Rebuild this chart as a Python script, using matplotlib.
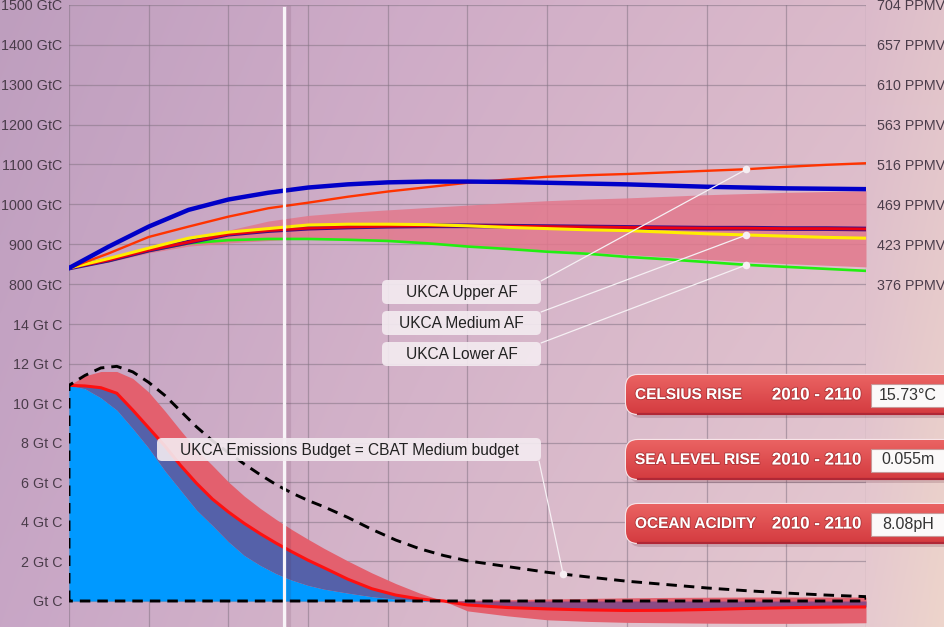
import numpy as np
import matplotlib
matplotlib.use("Agg")
import matplotlib.pyplot as plt
from matplotlib.patches import FancyBboxPatch, Rectangle
import matplotlib.patheffects as pe

# ---------------- data: top panel (GtC) ----------------
years_top = [2010, 2015, 2020, 2025, 2030, 2035, 2040, 2045, 2050, 2055, 2060,
             2065, 2070, 2075, 2080, 2085, 2090, 2095, 2100, 2105, 2110]
cbat_high = [840, 894, 944, 986, 1012, 1029, 1042, 1050, 1055, 1057, 1057,
             1056, 1054, 1052, 1050, 1047, 1044, 1042, 1040, 1039, 1038]
ukca_upper_af = [840, 877, 918, 944, 969, 990, 1004, 1019, 1032, 1043, 1054,
                 1062, 1069, 1073, 1076, 1080, 1084, 1088, 1094, 1099, 1103]
ukca_medium_af = [840, 864, 890, 915, 930, 939, 948, 950, 950, 949, 946,
                  942, 939, 936, 934, 930, 926, 923, 920, 917, 915]
ukca_lower_af = [840, 858, 883, 902, 910, 913, 913, 911, 908, 902, 894,
                 888, 881, 876, 868, 862, 855, 848, 843, 838, 833]
cbat_medium = [840, 860, 885, 905, 925, 934, 940, 943, 945, 946, 946,
               945, 944, 943, 942, 941, 940, 940, 939, 939, 938]
band_high = [840, 855, 882, 910, 935, 958, 972, 980, 986, 992, 998,
             1004, 1009, 1013, 1016, 1020, 1024, 1027, 1030, 1032, 1034]
band_low = [840, 855, 878, 895, 903, 909, 915, 913, 909, 903, 897,
            891, 885, 880, 874, 868, 862, 856, 851, 847, 843]

gtc_ticks = [800, 900, 1000, 1100, 1200, 1300, 1400, 1500]
gtc_labels = ['800 GtC', '900 GtC', '1000 GtC', '1100 GtC', '1200 GtC',
              '1300 GtC', '1400 GtC', '1500 GtC']
ppmv_labels = ['376 PPMV', '423 PPMV', '469 PPMV', '516 PPMV', '563 PPMV',
               '610 PPMV', '657 PPMV', '704 PPMV']

# ---------------- data: bottom panel (Gt C per year) ----------------
emis_years = [2010, 2012, 2014, 2016, 2018, 2020, 2022, 2024, 2026, 2028, 2030,
              2032, 2034, 2036, 2038, 2040, 2042, 2045, 2048, 2051, 2054, 2057,
              2060, 2065, 2070, 2075, 2080, 2085, 2090, 2095, 2100, 2105, 2110]
emis_upper = [10.9, 11.38, 11.6, 11.6, 11.25, 10.56, 9.62, 8.62, 7.65, 6.85, 6.02,
              5.3, 4.68, 4.12, 3.6, 3.12, 2.66, 2.02, 1.42, 0.88, 0.4, 0.0,
              0.03, 0.06, 0.1, 0.13, 0.16, 0.18, 0.19, 0.2, 0.2, 0.2, 0.2]
emis_medium = [10.9, 10.87, 10.78, 10.5, 9.65, 8.75, 7.85, 6.85, 5.95, 5.15, 4.5,
               3.92, 3.4, 2.92, 2.48, 2.06, 1.68, 1.1, 0.62, 0.3, 0.1, 0.0,
               -0.2, -0.33, -0.4, -0.45, -0.48, -0.47, -0.43, -0.38, -0.34, -0.31, -0.3]
emis_lower = [10.9, 10.73, 10.27, 9.65, 8.72, 7.73, 6.6, 5.6, 4.6, 3.82, 3.0,
              2.3, 1.8, 1.38, 1.05, 0.79, 0.6, 0.4, 0.22, 0.1, 0.03, 0.0,
              -0.5, -0.75, -0.95, -1.03, -1.08, -1.1, -1.12, -1.13, -1.13, -1.12, -1.1]
cbat_years = [2010, 2012, 2014, 2016, 2018, 2020, 2022, 2024, 2026, 2028, 2030,
              2032, 2034, 2036, 2038, 2040, 2042, 2045, 2048, 2051, 2054, 2057,
              2060, 2065, 2070, 2075, 2080, 2085, 2090, 2095, 2100, 2105, 2110]
cbat_budget = [10.9, 11.4, 11.78, 11.86, 11.58, 11.05, 10.4, 9.6, 8.8, 8.1, 7.5,
               6.92, 6.38, 5.88, 5.45, 5.08, 4.76, 4.22, 3.62, 3.08, 2.64, 2.3,
               2.03, 1.74, 1.45, 1.22, 1.0, 0.83, 0.66, 0.52, 0.4, 0.3, 0.22]

gt_ticks = [0, 2, 4, 6, 8, 10, 12, 14]
gt_labels = ['Gt C', '2 Gt C', '4 Gt C', '6 Gt C', '8 Gt C', '10 Gt C',
             '12 Gt C', '14 Gt C']

year_ticks = list(range(2010, 2111, 10))
now_year = 2037
marker_year = 2095
budget_marker_year = 2072

label_upper = 'UKCA Upper AF'
label_medium = 'UKCA Medium AF'
label_lower = 'UKCA Lower AF'
label_budget = 'UKCA Emissions Budget = CBAT Medium budget'

panel_titles = ['CELSIUS RISE', 'SEA LEVEL RISE', 'OCEAN ACIDITY']
panel_period = '2010 - 2110'
panel_values = ['15.73°C', '0.055m', '8.08pH']

# ---------------- figure ----------------
plt.rcParams['font.family'] = ['Liberation Sans', 'DejaVu Sans']
W, H = 945, 627
fig = plt.figure(figsize=(W / 100, H / 100), dpi=100)

# background gradient
ax_bg = fig.add_axes([0, 0, 1, 1], zorder=-5)
xs = np.arange(W)
stops = [0, 400, 866, 945]
top_cols = [(190, 158, 190), (206, 171, 199), (219, 186, 202), (225, 195, 203)]
bot_cols = [(200, 166, 198), (215, 183, 202), (230, 202, 208), (238, 213, 203)]
top_row = np.stack([np.interp(xs, stops, [c[k] for c in top_cols]) for k in range(3)], -1)
bot_row = np.stack([np.interp(xs, stops, [c[k] for c in bot_cols]) for k in range(3)], -1)
t = np.linspace(0, 1, H)[:, None, None]
img = (top_row[None] * (1 - t) + bot_row[None] * t) / 255.0
ax_bg.imshow(img, extent=[0, 1, 0, 1], aspect='auto', origin='upper')
ax_bg.axis('off')

L = 69 / W
R = 866 / W
SPLIT = 304
ax_top = fig.add_axes([L, 1 - SPLIT / H, R - L, (SPLIT - 5) / H], zorder=1)
ax_bot = fig.add_axes([L, 0, R - L, (H - SPLIT) / H], zorder=1)

px_gtc = (284 - 5) / 700.0
ax_top.set_ylim(800 - (SPLIT - 284) / px_gtc, 1500)
px_gt = (601 - 324) / 14.0
ax_bot.set_ylim(-(H - 601) / px_gt, (601 - SPLIT) / px_gt)

label_color = '#4a3c4a'
for ax in (ax_top, ax_bot):
    ax.set_facecolor('none')
    ax.set_xlim(2010, 2110)
    ax.set_xticks(year_ticks)
    for s in ax.spines.values():
        s.set_visible(False)
    ax.tick_params(axis='x', length=0, labelbottom=False)
    ax.tick_params(axis='y', length=0, pad=5, labelsize=10.3, labelcolor=label_color)
    ax.grid(True, color='#857585', lw=0.9, alpha=0.55, zorder=0)
    ax.set_axisbelow(True)

ax_top.set_yticks(gtc_ticks)
ax_top.set_yticklabels(gtc_labels)
ax_bot.set_yticks(gt_ticks)
ax_bot.set_yticklabels(gt_labels)

ax_r = ax_top.twinx()
ax_r.set_ylim(ax_top.get_ylim())
ax_r.set_yticks(gtc_ticks)
ax_r.set_yticklabels(ppmv_labels)
ax_r.tick_params(axis='y', length=0, pad=8, labelsize=10.3, labelcolor=label_color)
for s in ax_r.spines.values():
    s.set_visible(False)

# ---------------- top panel ----------------
yt = np.array(years_top)
ax_top.fill_between(yt, band_low, band_high, color='#e2788c', alpha=0.85, lw=0, zorder=2)
ax_top.plot(yt, ukca_lower_af, color='#22ee11', lw=1.9, zorder=3)
ax_top.plot(yt, cbat_medium, color='#ee0010', lw=2.0, zorder=3.1,
            path_effects=[pe.Stroke(linewidth=3.4, foreground='#3a108a'), pe.Normal()])
ax_top.plot(yt, ukca_medium_af, color='#ffee00', lw=2.2, zorder=3.2)
ax_top.plot(yt, ukca_upper_af, color='#ff3300', lw=1.7, zorder=3.3)
ax_top.plot(yt, cbat_high, color='#0000c8', lw=3.2, zorder=3.4)

# ---------------- bottom panel ----------------
x = np.array(emis_years)
up = np.array(emis_upper)
md = np.array(emis_medium)
lo = np.array(emis_lower)
ax_bot.fill_between(x, lo, up, color='#e3606e', lw=0, zorder=2)
ax_bot.fill_between(x, 0, np.clip(lo, 0, None), color='#0099ff', lw=0, zorder=3)
p_lo = np.where(md >= 0, np.clip(lo, 0, None), md)
p_hi = np.where(md >= 0, md, 0)
ax_bot.fill_between(x, p_lo, p_hi, where=x <= 2057, color='#5561a9', lw=0, zorder=3)
ax_bot.fill_between(x, p_lo, p_hi, where=x >= 2057, color='#8a4a84', lw=0, zorder=3)
ax_bot.plot(x, md, color='#ff1010', lw=2.2, zorder=4)

cx = [cbat_years[0]] + list(cbat_years) + [cbat_years[-1], cbat_years[0]]
cy = [0] + list(cbat_budget) + [0, 0]
ax_bot.plot(cx, cy, color='black', lw=2.1, ls=(0, (3.6, 2.4)), zorder=5,
            solid_joinstyle='miter')

# "now" line
top_h = SPLIT - 5
for ax, ymax in ((ax_top, (SPLIT - 8) / top_h), (ax_bot, 1)):
    ax.axvline(now_year + 0.55, ymin=0, ymax=ymax, color='#502040', lw=3, alpha=0.12, zorder=6)
    ax.axvline(now_year, ymin=0, ymax=ymax, color='#f8f4f8', lw=2.3, zorder=6.5)

# ---------------- overlay (annotations, panels) ----------------
ax_ov = fig.add_axes([0, 0, 1, 1], zorder=10)
ax_ov.set_xlim(0, W)
ax_ov.set_ylim(H, 0)
ax_ov.axis('off')
ax_ov.patch.set_visible(False)

line_col = '#f6f0f4'
idx = years_top.index(marker_year)
targets = [(label_upper, 280, ukca_upper_af[idx]),
           (label_medium, 311, ukca_medium_af[idx]),
           (label_lower, 342, ukca_lower_af[idx])]
for text, y0, val in targets:
    ax_ov.add_patch(FancyBboxPatch((382, y0), 159, 24,
                                   boxstyle='round,pad=0,rounding_size=5',
                                   fc='#f4ecf1', ec='none', alpha=0.9))
    ax_ov.text(461.5, y0 + 12.5, text, ha='center', va='center', fontsize=11.2, color='#222222')
    ax_ov.annotate('', xy=(marker_year, val), xycoords=ax_top.transData,
                   xytext=(541, y0 + 1), textcoords='data',
                   arrowprops=dict(arrowstyle='-', color=line_col, lw=0.9,
                                   shrinkA=0, shrinkB=0))
    ax_top.scatter([marker_year], [val], s=30, color='#f6eef2', zorder=8, lw=0)

bud_val = float(np.interp(budget_marker_year, cbat_years, cbat_budget))
ax_ov.add_patch(FancyBboxPatch((157, 438), 384, 23,
                               boxstyle='round,pad=0,rounding_size=5',
                               fc='#f4ecf1', ec='none', alpha=0.9))
ax_ov.text(349, 450, label_budget, ha='center', va='center', fontsize=11.2, color='#222222')
ax_ov.annotate('', xy=(budget_marker_year, bud_val), xycoords=ax_bot.transData,
               xytext=(539, 461), textcoords='data',
               arrowprops=dict(arrowstyle='-', color=line_col, lw=0.9, shrinkA=0, shrinkB=0))
ax_bot.scatter([budget_marker_year], [bud_val], s=30, color='#f6eef2', zorder=8, lw=0)

# red result panels
grad = np.linspace(0, 1, 40)[:, None, None]
c_top = np.array([234, 98, 98]) / 255
c_bot = np.array([212, 60, 64]) / 255
grad_img = c_top * (1 - grad) + c_bot * grad
grad_img = np.repeat(grad_img, 2, axis=1)
panel_tops = [375, 440, 504]
panel_font = ['Liberation Sans', 'DejaVu Sans']
txt_fx = [pe.Stroke(linewidth=1.4, foreground='#9c2c30', alpha=0.6), pe.Normal()]
for title, value, y0 in zip(panel_titles, panel_values, panel_tops):
    h = 39
    ax_ov.add_patch(FancyBboxPatch((629, y0 + 4), 330, h,
                                   boxstyle='round,pad=0,rounding_size=12',
                                   fc='#5a2030', ec='none', alpha=0.18))
    main = FancyBboxPatch((626, y0), 330, h, boxstyle='round,pad=0,rounding_size=12',
                          fc='#df5355', ec='#f7e4e8', lw=1.6)
    ax_ov.add_patch(main)
    im = ax_ov.imshow(grad_img, extent=[626, 956, y0 + h, y0], aspect='auto',
                      origin='upper', zorder=2)
    im.set_clip_path(main)
    ax_ov.plot([638, W], [y0 + h - 0.5, y0 + h - 0.5], color='#b02836', lw=1.6, zorder=3)
    ax_ov.add_patch(Rectangle((871, y0 + 8.5), 80, 23, fc='#fbf9f9', ec='#c89898',
                              lw=0.8, zorder=4))
    ax_ov.text(635, y0 + 20, title, ha='left', va='center', fontsize=11.1,
               fontweight='bold', color='white', family=panel_font, zorder=5,
               path_effects=txt_fx)
    ax_ov.text(861, y0 + 20, panel_period, ha='right', va='center', fontsize=12.2,
               fontweight='bold', color='white', family=panel_font, zorder=5,
               path_effects=txt_fx)
    ax_ov.text(908, y0 + 20, value, ha='center', va='center', fontsize=11.5,
               color='#333333', zorder=5)

ax_ov.set_xlim(0, W)
ax_ov.set_ylim(H, 0)

fig.savefig('out.png', dpi=100)
